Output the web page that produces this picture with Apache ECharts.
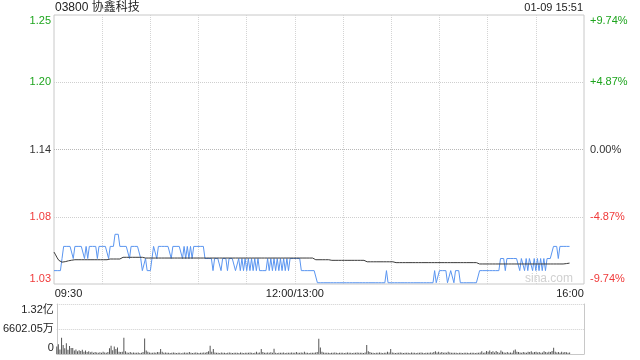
<!DOCTYPE html>
<html><head><meta charset="utf-8">
<script src="https://cdn.jsdelivr.net/npm/echarts@6/dist/echarts.min.js"></script>
<style>html,body{margin:0;padding:0;background:#fff}#c{width:640px;height:360px}</style>
</head><body><div id="c"></div>
<script>
const titleText = '03800 协鑫科技';
const dateText = '01-09 15:51';
const prevClose = 1.14;
const limitPct = 9.74;
const tickLabels = ['09:30', '12:00/13:00', '16:00'];
const volMax = 13204.1; // 万

const price = [
1.04,1.04,1.04,1.04,1.04,1.05,1.06,1.06,1.06,1.06,
1.06,1.06,1.05,1.06,1.06,1.06,1.06,1.06,1.06,1.05,
1.06,1.05,1.06,1.06,1.06,1.06,1.06,1.05,1.06,1.06,
1.06,1.06,1.06,1.06,1.05,1.06,1.06,1.06,1.07,1.07,
1.07,1.06,1.06,1.06,1.06,1.06,1.06,1.05,1.06,1.06,
1.06,1.06,1.06,1.06,1.05,1.04,1.04,1.05,1.04,1.04,
1.04,1.05,1.06,1.06,1.05,1.06,1.06,1.06,1.06,1.06,
1.06,1.06,1.06,1.05,1.06,1.06,1.06,1.06,1.06,1.06,
1.05,1.06,1.05,1.06,1.05,1.06,1.05,1.06,1.06,1.06,
1.06,1.06,1.06,1.06,1.05,1.05,1.05,1.05,1.05,1.04,
1.05,1.05,1.05,1.05,1.04,1.05,1.05,1.05,1.04,1.05,
1.05,1.05,1.05,1.04,1.04,1.05,1.04,1.05,1.04,1.05,
1.04,1.05,1.04,1.05,1.04,1.05,1.04,1.05,1.04,1.04,
1.04,1.04,1.04,1.05,1.04,1.05,1.04,1.05,1.04,1.05,
1.04,1.05,1.04,1.05,1.04,1.05,1.04,1.05,1.05,1.05,
1.05,1.05,1.05,1.05,1.04,1.04,1.04,1.04,1.04,1.04,
1.04,1.04,1.04,1.04,1.03,1.03,1.03,1.03,1.03,1.03,
1.03,1.03,1.03,1.03,1.03,1.03,1.03,1.03,1.03,1.03,
1.03,1.03,1.03,1.03,1.03,1.03,1.03,1.03,1.03,1.03,
1.03,1.03,1.03,1.03,1.03,1.03,1.03,1.03,1.03,1.03,
1.03,1.03,1.03,1.03,1.03,1.03,1.03,1.04,1.03,1.03,
1.03,1.03,1.03,1.03,1.03,1.03,1.03,1.03,1.03,1.03,
1.03,1.03,1.03,1.03,1.03,1.03,1.03,1.03,1.03,1.03,
1.03,1.03,1.03,1.03,1.03,1.03,1.03,1.04,1.03,1.03,
1.04,1.04,1.04,1.04,1.04,1.03,1.03,1.04,1.04,1.03,
1.04,1.04,1.04,1.03,1.03,1.03,1.03,1.03,1.03,1.03,
1.03,1.03,1.03,1.03,1.03,1.04,1.04,1.04,1.04,1.04,
1.04,1.04,1.04,1.04,1.04,1.04,1.04,1.04,1.05,1.05,
1.05,1.04,1.05,1.05,1.05,1.05,1.05,1.05,1.05,1.05,
1.04,1.05,1.05,1.04,1.05,1.04,1.05,1.05,1.04,1.05,
1.04,1.05,1.04,1.05,1.04,1.05,1.04,1.05,1.05,1.05,
1.05,1.06,1.06,1.06,1.05,1.06,1.06,1.06,1.06,1.06,1.06,1.06
];

const avgPrice = [
1.0553,1.0530,1.0505,1.0485,1.0477,1.0470,1.0470,1.0474,1.0478,1.0481,
1.0484,1.0486,1.0490,1.0490,1.0490,1.0490,1.0490,1.0490,1.0490,1.0490,
1.0490,1.0490,1.0490,1.0490,1.0490,1.0490,1.0490,1.0490,1.0490,1.0490,
1.0490,1.0490,1.0490,1.0490,1.0496,1.0496,1.0496,1.0496,1.0496,1.0496,
1.0496,1.0496,1.0510,1.0510,1.0510,1.0510,1.0510,1.0510,1.0510,1.0510,
1.0510,1.0510,1.0510,1.0510,1.0510,1.0510,1.0504,1.0504,1.0504,1.0504,
1.0504,1.0504,1.0504,1.0504,1.0504,1.0504,1.0504,1.0504,1.0504,1.0504,
1.0504,1.0504,1.0504,1.0504,1.0504,1.0504,1.0504,1.0504,1.0504,1.0504,
1.0504,1.0504,1.0504,1.0504,1.0504,1.0504,1.0504,1.0504,1.0504,1.0504,
1.0504,1.0504,1.0504,1.0504,1.0504,1.0504,1.0504,1.0504,1.0504,1.0504,
1.0504,1.0504,1.0504,1.0504,1.0504,1.0504,1.0504,1.0504,1.0504,1.0504,
1.0504,1.0504,1.0504,1.0504,1.0504,1.0504,1.0504,1.0504,1.0504,1.0504,
1.0504,1.0504,1.0504,1.0504,1.0504,1.0504,1.0504,1.0504,1.0504,1.0504,
1.0504,1.0504,1.0504,1.0504,1.0504,1.0504,1.0504,1.0504,1.0504,1.0504,
1.0504,1.0504,1.0504,1.0504,1.0504,1.0504,1.0504,1.0504,1.0504,1.0504,
1.0504,1.0504,1.0504,1.0504,1.0504,1.0504,1.0504,1.0504,1.0504,1.0504,
1.0504,1.0504,1.0490,1.0490,1.0490,1.0490,1.0490,1.0490,1.0490,1.0490,
1.0490,1.0490,1.0485,1.0485,1.0485,1.0485,1.0485,1.0485,1.0485,1.0485,
1.0485,1.0485,1.0485,1.0485,1.0485,1.0485,1.0485,1.0485,1.0485,1.0485,
1.0485,1.0485,1.0485,1.0485,1.0473,1.0473,1.0473,1.0473,1.0473,1.0473,
1.0473,1.0473,1.0473,1.0473,1.0473,1.0473,1.0473,1.0473,1.0473,1.0473,
1.0473,1.0473,1.0466,1.0466,1.0466,1.0466,1.0466,1.0466,1.0466,1.0466,
1.0466,1.0466,1.0466,1.0466,1.0466,1.0466,1.0466,1.0466,1.0466,1.0466,
1.0466,1.0466,1.0466,1.0466,1.0466,1.0466,1.0466,1.0466,1.0466,1.0466,
1.0466,1.0466,1.0466,1.0466,1.0466,1.0466,1.0466,1.0466,1.0466,1.0466,
1.0466,1.0466,1.0466,1.0466,1.0466,1.0466,1.0466,1.0466,1.0466,1.0466,
1.0466,1.0466,1.0466,1.0466,1.0466,1.0455,1.0455,1.0455,1.0455,1.0455,
1.0455,1.0455,1.0455,1.0455,1.0455,1.0455,1.0455,1.0455,1.0455,1.0455,
1.0455,1.0455,1.0455,1.0455,1.0455,1.0455,1.0455,1.0455,1.0455,1.0455,
1.0455,1.0455,1.0455,1.0455,1.0455,1.0455,1.0455,1.0455,1.0455,1.0455,
1.0455,1.0455,1.0455,1.0455,1.0455,1.0455,1.0455,1.0455,1.0455,1.0455,
1.0455,1.0455,1.0455,1.0455,1.0455,1.0455,1.0455,1.0455,1.0456,1.0458,1.0460,1.0462
];

const volume = [ // 万股
2000,2560,1200,4300,2380,1500,2830,1100,2100,1600,
1580,900,1200,700,1000,800,1100,600,900,500,
700,450,600,350,500,400,300,450,350,600,
400,300,500,1500,2200,1000,2000,1300,1700,600,
500,600,4300,700,400,300,500,350,400,300,
300,400,250,350,500,4100,900,600,400,300,
350,400,300,500,450,1300,600,300,400,350,
300,250,350,400,300,250,300,350,200,300,
400,350,300,500,300,250,350,400,300,250,
300,350,400,300,500,700,2200,600,1300,400,
350,300,250,400,300,350,250,300,400,300,
250,300,350,300,250,400,300,250,300,350,
300,400,350,250,300,600,350,400,1300,500,
300,350,400,300,450,350,1400,300,250,300,
350,300,400,250,300,350,300,400,300,350,
500,300,350,400,300,600,350,300,250,300,
350,300,400,500,4000,1700,600,400,300,350,
300,250,350,300,400,300,250,300,350,300,
250,300,400,350,300,250,300,350,400,300,
350,300,250,400,2400,700,500,350,300,250,
300,350,400,300,250,300,350,600,400,1300,
400,300,250,350,300,400,300,250,300,350,
300,250,400,350,300,250,300,350,400,300,
250,300,350,300,400,350,500,700,400,600,
350,500,300,400,350,600,400,300,350,300,
300,250,350,300,250,300,350,300,250,300,
350,300,250,300,350,400,700,350,400,800,
600,900,500,700,400,800,500,350,900,600,
400,350,500,300,400,350,900,1200,600,500,
400,350,500,400,350,600,500,700,400,500,
600,400,500,350,400,700,500,400,600,500,
800,1660,600,400,500,350,600,400,500,450,350,400
];

// minute categories 09:30..12:00/13:00..16:00
const times = [];
function pad(n){return (n<10?'0':'')+n;}
for (let m = 0; m <= 330; m++) {
  if (m < 150) { const t = 9*60+30+m; times.push(pad(Math.floor(t/60))+':'+pad(t%60)); }
  else if (m === 150) times.push(tickLabels[1]);
  else { const t = 13*60+(m-150); times.push(pad(Math.floor(t/60))+':'+pad(t%60)); }
}

const FONT = '"Liberation Sans", Arial, "Noto Sans CJK SC", sans-serif';
const GREEN = '#1ea51e', RED = '#f03a3a', DARK = '#333';
const chart = echarts.init(document.getElementById('c'), null, {renderer:'canvas'});

function edgeKey(v){ return v > limitPct - 0.01 ? 't' : (v < -limitPct + 0.01 ? 'b' : 'm'); }
const richBase = {
  tg:{color:GREEN, fontSize:11, fontFamily:FONT, padding:[11,0,0,0]},
  mg:{color:GREEN, fontSize:11, fontFamily:FONT},
  mk:{color:DARK, fontSize:11, fontFamily:FONT},
  mr:{color:RED, fontSize:11, fontFamily:FONT},
  br:{color:RED, fontSize:11, fontFamily:FONT, padding:[0,0,11,0]}
};
function styleKey(v){
  const e = edgeKey(v);
  const c = v > 0.001 ? 'g' : (v < -0.001 ? 'r' : 'k');
  return e + c;
}

chart.setOption({
  animation: false,
  backgroundColor: '#fff',
  textStyle: {fontFamily: FONT},
  grid: [
    {left:54, right:56, top:15, height:269, show:true, borderColor:'#c8c8c8', borderWidth:1, backgroundColor:'transparent'},
    {left:54, right:56, top:304, height:50}
  ],
  graphic: [
    {type:'text', x:55, y:8, style:{text:titleText, font:'12px '+FONT, fill:'#222', textAlign:'left', textVerticalAlign:'middle'}},
    {type:'text', x:583, y:8, style:{text:dateText, font:'11px '+FONT, fill:'#222', textAlign:'right', textVerticalAlign:'middle'}},
    {type:'text', x:573, y:279, style:{text:'sina.com', font:'12px '+FONT, fill:'#d0d0d0', textAlign:'right', textVerticalAlign:'middle'}, z:0}
  ],
  xAxis: [
    {gridIndex:0, type:'category', data:times, boundaryGap:false,
     axisLine:{show:false}, axisTick:{show:false},
     axisLabel:{
       interval:function(i){return i===0||i===150||i===330;},
       margin:4, fontSize:11, color:'#222', fontFamily:FONT,
       formatter:function(v,i){
         if(i===0) return '{l|'+tickLabels[0]+'}';
         if(i===330) return '{r|'+tickLabels[2]+'}';
         return '{c|'+v+'}';
       },
       rich:{
         l:{fontSize:11, color:'#222', fontFamily:FONT, padding:[0,0,0,29]},
         r:{fontSize:11, color:'#222', fontFamily:FONT, padding:[0,28,0,0]},
         c:{fontSize:11, color:'#222', fontFamily:FONT}
       }
     },
     splitLine:{show:true, interval:function(i){return i%30===0 && i!==0 && i!==330;},
       lineStyle:{color:'#d4d4d4', type:'dotted', width:1}}
    },
    {gridIndex:1, type:'category', data:times, boundaryGap:false,
     axisLine:{show:true, lineStyle:{color:'#c8c8c8'}}, axisTick:{show:false}, axisLabel:{show:false}, splitLine:{show:false}}
  ],
  yAxis: [
    {gridIndex:0, type:'value', position:'left', min:-limitPct, max:limitPct, interval:limitPct/2,
     axisLine:{show:false}, axisTick:{show:false},
     axisLabel:{margin:3, fontSize:11, fontFamily:FONT,
       formatter:function(v){ return '{'+styleKey(v)+'|'+(prevClose*(1+v/100)).toFixed(2)+'}'; },
       rich:richBase},
     splitLine:{show:true, lineStyle:{type:'dotted', width:1,
       color:['rgba(0,0,0,0)','#cfcfcf','#b8b8b8','#cfcfcf','rgba(0,0,0,0)']}}
    },
    {gridIndex:0, type:'value', position:'right', min:-limitPct, max:limitPct, interval:limitPct/2,
     axisLine:{show:false}, axisTick:{show:false}, splitLine:{show:false},
     axisLabel:{margin:6, fontSize:11, fontFamily:FONT,
       formatter:function(v){
         const s = v > 0.001 ? '+'+v.toFixed(2)+'%' : (v < -0.001 ? v.toFixed(2)+'%' : '0.00%');
         return '{'+styleKey(v)+'|'+s+'}';
       },
       rich:richBase}
    },
    {gridIndex:0, type:'value', show:false,
     min: prevClose*(1-limitPct/100), max: prevClose*(1+limitPct/100),
     splitLine:{show:false}},
    {gridIndex:1, type:'value', position:'left', min:0, max:volMax, interval:volMax/2,
     axisLine:{show:true, lineStyle:{color:'#c8c8c8'}}, axisTick:{show:false},
     axisLabel:{margin:3, fontSize:11, fontFamily:FONT, color:'#222',
       formatter:function(v){
         if (v <= 0.001) return '{b|0}';
         if (v >= 10000) return '{t|'+(v/10000).toFixed(2)+'亿}';
         return '{m|'+v.toFixed(2)+'万}';
       },
       rich:{
         t:{fontSize:11, color:'#222', fontFamily:FONT, padding:[11,0,0,0]},
         m:{fontSize:11, color:'#222', fontFamily:FONT},
         b:{fontSize:11, color:'#222', fontFamily:FONT, padding:[0,0,13,0]}
       }},
     splitLine:{show:true, lineStyle:{type:'dotted', width:1, color:['rgba(0,0,0,0)','#cfcfcf','#cfcfcf']}}
    },
    {gridIndex:1, type:'value', position:'right', min:0, max:volMax,
     axisLine:{show:true, lineStyle:{color:'#c8c8c8'}}, axisTick:{show:false}, axisLabel:{show:false}, splitLine:{show:false}}
  ],
  series: [
    {type:'line', xAxisIndex:0, yAxisIndex:2, data:price, symbol:'none', silent:true,
     lineStyle:{color:'#5a95f0', width:1}, z:3},
    {type:'line', xAxisIndex:0, yAxisIndex:2, data:avgPrice, symbol:'none', silent:true,
     lineStyle:{color:'#3a3a3a', width:1}, z:4},
    {type:'bar', xAxisIndex:1, yAxisIndex:3, data:volume, barWidth:1, silent:true,
     itemStyle:{color:'#555'}}
  ]
});
</script>
</body></html>
